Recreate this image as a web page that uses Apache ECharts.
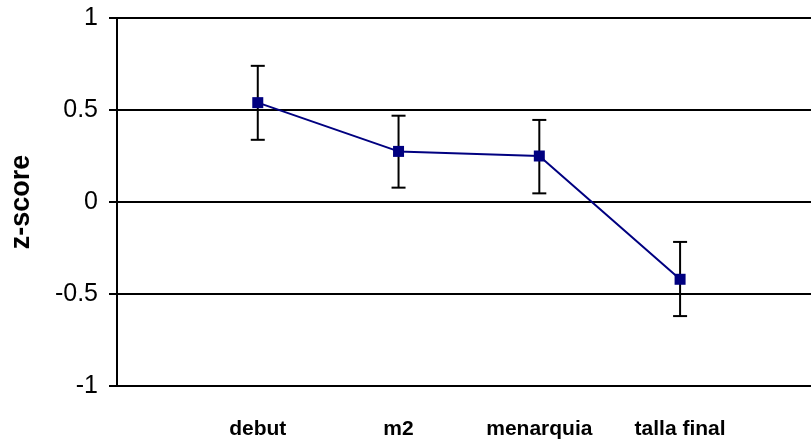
<!DOCTYPE html>
<html>
<head>
<meta charset="utf-8">
<script src="https://cdn.jsdelivr.net/npm/echarts@6/dist/echarts.min.js"></script>
<style>
  html, body { margin: 0; padding: 0; background: #fff; }
  #chart { width: 811px; height: 442px; }
</style>
</head>
<body>
<div id="chart"></div>
<script>
// data
var categories = ["debut", "m2", "menarquia", "talla final"];
var zMeans = [0.54, 0.275, 0.25, -0.42];
var zLower = [0.338, 0.078, 0.047, -0.62];
var zUpper = [0.74, 0.469, 0.446, -0.217];
var yTicks = [-1, -0.5, 0, 0.5, 1];

// categories sit at 1..4; the plot is cut off at the right just before 5
var xMax = 4.93;

var lineData = categories.map(function (c, i) { return [i + 1, zMeans[i]]; });
var errData = categories.map(function (c, i) { return [i + 1, zLower[i], zUpper[i]]; });

var chart = echarts.init(document.getElementById("chart"));

var option = {
  animation: false,
  backgroundColor: "#fff",
  grid: { left: 116, right: 0, top: 18, bottom: 56, containLabel: false },
  xAxis: {
    type: "value",
    min: 0,
    max: xMax,
    interval: 1,
    axisLine: { show: false },
    axisTick: { show: false },
    splitLine: { show: false },
    axisLabel: {
      showMinLabel: false,
      showMaxLabel: false,
      margin: 33,
      color: "#000",
      fontSize: 21,
      lineHeight: 21,
      fontWeight: "bold",
      fontFamily: "Liberation Sans, Arial, sans-serif",
      formatter: function (v) {
        return Number.isInteger(v) && categories[v - 1] ? categories[v - 1] : "";
      }
    }
  },
  yAxis: {
    type: "value",
    min: yTicks[0],
    max: yTicks[yTicks.length - 1],
    interval: 0.5,
    name: "z-score",
    nameLocation: "middle",
    nameGap: 82,
    nameRotate: 90,
    nameTextStyle: {
      color: "#000",
      fontSize: 27,
      fontWeight: "bold",
      fontFamily: "Liberation Sans, Arial, sans-serif"
    },
    axisLine: { show: true, lineStyle: { color: "#000", width: 2 } },
    axisTick: { show: true, inside: false, length: 8, lineStyle: { color: "#000", width: 2 } },
    splitLine: { show: true, lineStyle: { color: "#000", width: 2 } },
    axisLabel: {
      margin: 19,
      color: "#000",
      fontSize: 25,
      fontFamily: "Liberation Sans, Arial, sans-serif",
      formatter: function (v) { return String(v); }
    }
  },
  series: [
    {
      type: "custom",
      name: "error",
      z: 3,
      data: errData,
      renderItem: function (params, api) {
        var x = api.value(0);
        var lo = api.coord([x, api.value(1)]);
        var hi = api.coord([x, api.value(2)]);
        var cap = 7;
        var style = { stroke: "#000", lineWidth: 2 };
        return {
          type: "group",
          children: [
            { type: "line", shape: { x1: lo[0], y1: lo[1], x2: hi[0], y2: hi[1] }, style: style },
            { type: "line", shape: { x1: lo[0] - cap, y1: lo[1], x2: lo[0] + cap, y2: lo[1] }, style: style },
            { type: "line", shape: { x1: hi[0] - cap, y1: hi[1], x2: hi[0] + cap, y2: hi[1] }, style: style }
          ]
        };
      }
    },
    {
      type: "line",
      name: "z-score",
      z: 4,
      data: lineData,
      symbol: "rect",
      symbolSize: 11,
      lineStyle: { color: "#000080", width: 2 },
      itemStyle: { color: "#000080" }
    }
  ]
};

chart.setOption(option);
</script>
</body>
</html>
